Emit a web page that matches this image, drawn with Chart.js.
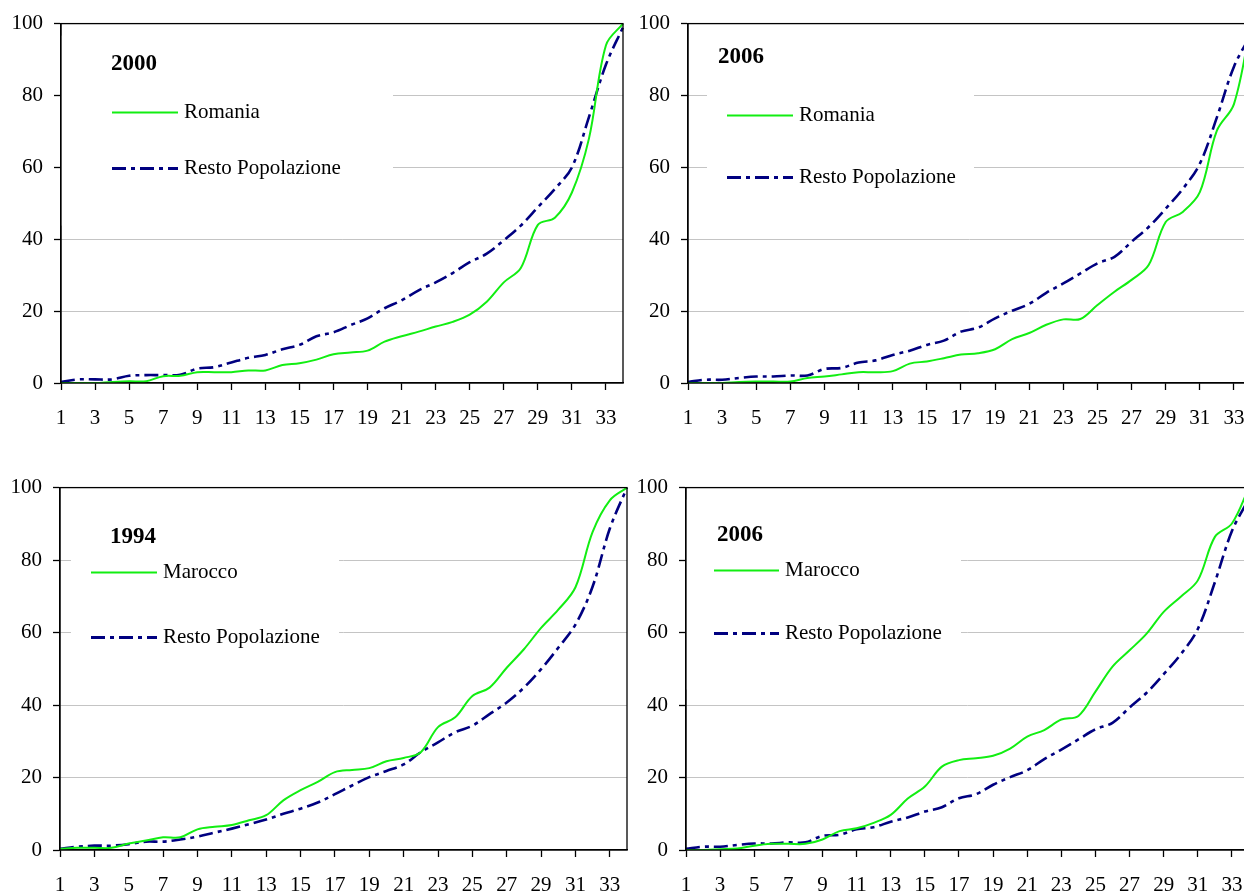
<!DOCTYPE html>
<html>
<head>
<meta charset="utf-8">
<script src="https://cdn.jsdelivr.net/npm/chart.js@4.4.0/dist/chart.umd.min.js"></script>
<style>
  html, body { margin: 0; padding: 0; background: #fff; overflow: hidden; width: 1244px; height: 895px; }
  .box { position: absolute; }
</style>
</head>
<body>
<div class="box" id="b1"><canvas id="c1"></canvas></div>
<div class="box" id="b2"><canvas id="c2"></canvas></div>
<div class="box" id="b3"><canvas id="c3"></canvas></div>
<div class="box" id="b4"><canvas id="c4"></canvas></div>
<script>
const categorie = [1, 2, 3, 4, 5, 6, 7, 8, 9, 10, 11, 12, 13, 14, 15, 16, 17,
  18, 19, 20, 21, 22, 23, 24, 25, 26, 27, 28, 29, 30, 31, 32, 33, 34];
const xTickLabels = [1, 3, 5, 7, 9, 11, 13, 15, 17, 19, 21, 23, 25, 27, 29, 31, 33];

const romania2000 = [0, 0, 0, 0.3, 0.5, 0.5, 1.9, 2, 3, 3, 3, 3.5, 3.5, 5, 5.5, 6.5, 8,
  8.5, 9, 11.5, 13, 14.3, 15.7, 17, 19, 22.6, 28, 32, 44, 46, 53, 68, 94, 100];
const resto2000 = [0.3, 1, 1, 1, 2, 2.2, 2.2, 2.3, 4, 4.4, 5.7, 7, 7.8, 9.4, 10.6, 13, 14.1,
  16.1, 18, 20.8, 23, 25.8, 28, 30.6, 33.6, 36, 39.7, 43.8, 48.9, 54, 60, 74, 88.6, 99];

const romania2006 = [0, 0, 0, 0.3, 0.4, 0.4, 0.4, 1.4, 1.8, 2.4, 3, 3, 3.3, 5.4, 6, 6.9, 7.9,
  8.3, 9.4, 12.2, 13.9, 16.2, 17.7, 17.8, 21.7, 25.4, 28.7, 32.8, 44.8, 47.6, 53.1, 70.2, 77.6, 100];
const resto2006 = [0.3, 0.9, 0.9, 1.4, 1.8, 1.8, 2.1, 2.1, 3.9, 4.2, 5.7, 6.3, 7.8, 9, 10.6, 11.8, 14.3,
  15.4, 18, 20.1, 22, 25.1, 27.7, 30.5, 33.3, 35.1, 39.3, 43.4, 48.5, 54, 61, 73.9, 88, 97];

const marocco1994 = [0.3, 0.6, 0.6, 0.6, 1.8, 2.6, 3.5, 3.5, 5.7, 6.4, 6.9, 8.2, 9.6, 13.7, 16.5, 18.8, 21.5,
  22.1, 22.6, 24.5, 25.4, 27, 33.9, 36.6, 42.5, 44.8, 50.3, 55.4, 61.3, 66.3, 72.5, 87.8, 96.5, 100];
const resto1994 = [0.3, 0.9, 1.2, 1.2, 1.6, 2.3, 2.3, 2.9, 3.7, 4.8, 5.9, 7.1, 8.4, 10, 11.4, 13.1, 15.4,
  17.8, 20.1, 21.8, 23.6, 27, 29.7, 32.5, 34.3, 37.5, 40.7, 44.8, 49.9, 55.8, 62.2, 72.7, 88.7, 100];

const marocco2006 = [0, 0, 0.2, 0.4, 1.2, 1.7, 1.7, 1.7, 2.9, 5.2, 6, 7.5, 9.7, 14.2, 17.5, 23, 24.8,
  25.3, 26, 28, 31.3, 33.1, 36, 37, 43.7, 50.6, 55.1, 59.7, 65.7, 69.9, 74.4, 86.4, 90.1, 100];

const VERDE = '#12ee12';
const BLU = '#000080';
const TRATTO = [14, 5, 4, 5];

Chart.defaults.font.family = '"Liberation Serif", "Times New Roman", serif';
Chart.defaults.font.size = 21;
Chart.defaults.color = '#000';

// spazi fissi attorno all'area del grafico
const YW = 61, PT = 22, PR = 14, XH = 47, PB = 10;

const legendaPlugin = {
  id: 'legenda',
  beforeDatasetsDraw(chart, args, o) {
    const a = chart.chartArea, c = chart.ctx;
    c.save();
    c.fillStyle = '#fff';
    c.fillRect(a.left + o.box[0], a.top + 12, o.box[1] - o.box[0], 190);
    c.restore();
  },
  afterDraw(chart, args, o) {
    const a = chart.chartArea, c = chart.ctx;
    c.save();
    c.strokeStyle = '#000';
    c.lineWidth = 1.3;
    c.strokeRect(a.left, a.top, a.right - a.left, a.bottom - a.top);

    c.fillStyle = '#000';
    c.textBaseline = 'middle';
    c.font = 'bold 23px "Liberation Serif"';
    c.fillText(o.anno, a.left + o.titolo[0], a.top + o.titolo[1]);

    c.font = '21px "Liberation Serif"';
    // campione verde
    c.strokeStyle = VERDE;
    c.lineWidth = 2;
    c.beginPath();
    c.moveTo(a.left + o.campione[0], a.top + o.riga1);
    c.lineTo(a.left + o.campione[1], a.top + o.riga1);
    c.stroke();
    c.fillText(o.paese, a.left + o.campione[1] + 6, a.top + o.riga1);
    // campione blu
    c.strokeStyle = BLU;
    c.lineWidth = 3;
    c.setLineDash(TRATTO);
    c.beginPath();
    c.moveTo(a.left + o.campione[0], a.top + o.riga2);
    c.lineTo(a.left + o.campione[1], a.top + o.riga2);
    c.stroke();
    c.setLineDash([]);
    c.fillText('Resto Popolazione', a.left + o.campione[1] + 6, a.top + o.riga2);
    c.restore();
  }
};

function creaGrafico(n, plot, verde, blu, legenda) {
  const div = document.getElementById('b' + n);
  div.style.left = (plot.l - YW) + 'px';
  div.style.top = (plot.t - PT) + 'px';
  div.style.width = (plot.r - plot.l + YW + PR) + 'px';
  div.style.height = (plot.b - plot.t + PT + XH + PB) + 'px';

  new Chart(document.getElementById('c' + n), {
    type: 'line',
    data: {
      labels: categorie,
      datasets: [
        {
          label: legenda.paese,
          data: verde,
          borderColor: VERDE,
          borderWidth: 2,
          pointRadius: 0,
          tension: 0.35,
          fill: false
        },
        {
          label: 'Resto Popolazione',
          data: blu,
          borderColor: BLU,
          borderWidth: 2.6,
          borderDash: TRATTO,
          pointRadius: 0,
          tension: 0.35,
          fill: false
        }
      ]
    },
    options: {
      responsive: true,
      maintainAspectRatio: false,
      animation: false,
      layout: { padding: { left: 0, top: PT, right: PR, bottom: PB } },
      plugins: {
        legend: { display: false },
        tooltip: { enabled: false },
        legenda: legenda
      },
      scales: {
        x: {
          type: 'category',
          offset: false,
          afterFit: s => { s.height = XH; },
          border: { display: true, color: '#000', width: 1.3 },
          grid: {
            drawOnChartArea: false,
            tickLength: 7,
            tickWidth: 1.3,
            tickColor: ctx => xTickLabels.includes(categorie[ctx.index]) ? '#000' : 'rgba(0,0,0,0)'
          },
          ticks: {
            autoSkip: false,
            maxRotation: 0,
            padding: 16,
            callback: (v, i) => xTickLabels.includes(categorie[i]) ? categorie[i] : ''
          }
        },
        y: {
          min: 0,
          max: 100,
          afterFit: s => { s.width = YW; },
          border: { display: true, color: '#000', width: 1.3 },
          grid: {
            color: ctx => (ctx.tick && (ctx.tick.value === 0 || ctx.tick.value === 100)) ? 'rgba(0,0,0,0)' : '#c4c4c4',
            tickColor: '#000',
            tickLength: 7,
            tickWidth: 1.3
          },
          ticks: { stepSize: 20, padding: 11 }
        }
      }
    },
    plugins: [legendaPlugin]
  });
}

creaGrafico(1, { l: 61, t: 22, r: 625, b: 383 }, romania2000, resto2000, {
  anno: '2000', paese: 'Romania', titolo: [50, 40], campione: [51, 117], riga1: 89, riga2: 145, box: [0, 332]
});
creaGrafico(2, { l: 688, t: 22, r: 1253, b: 383 }, romania2006, resto2006, {
  anno: '2006', paese: 'Romania', titolo: [30, 33], campione: [39, 105], riga1: 92, riga2: 154, box: [19, 286]
});
creaGrafico(3, { l: 60, t: 486, r: 629, b: 850 }, marocco1994, resto1994, {
  anno: '1994', paese: 'Marocco', titolo: [50, 49], campione: [31, 97], riga1: 85, riga2: 150, box: [11, 279]
});
creaGrafico(4, { l: 686, t: 486, r: 1251, b: 850 }, marocco2006, resto2006, {
  anno: '2006', paese: 'Marocco', titolo: [31, 47], campione: [28, 93], riga1: 83, riga2: 146, box: [0, 275]
});
</script>
</body>
</html>
